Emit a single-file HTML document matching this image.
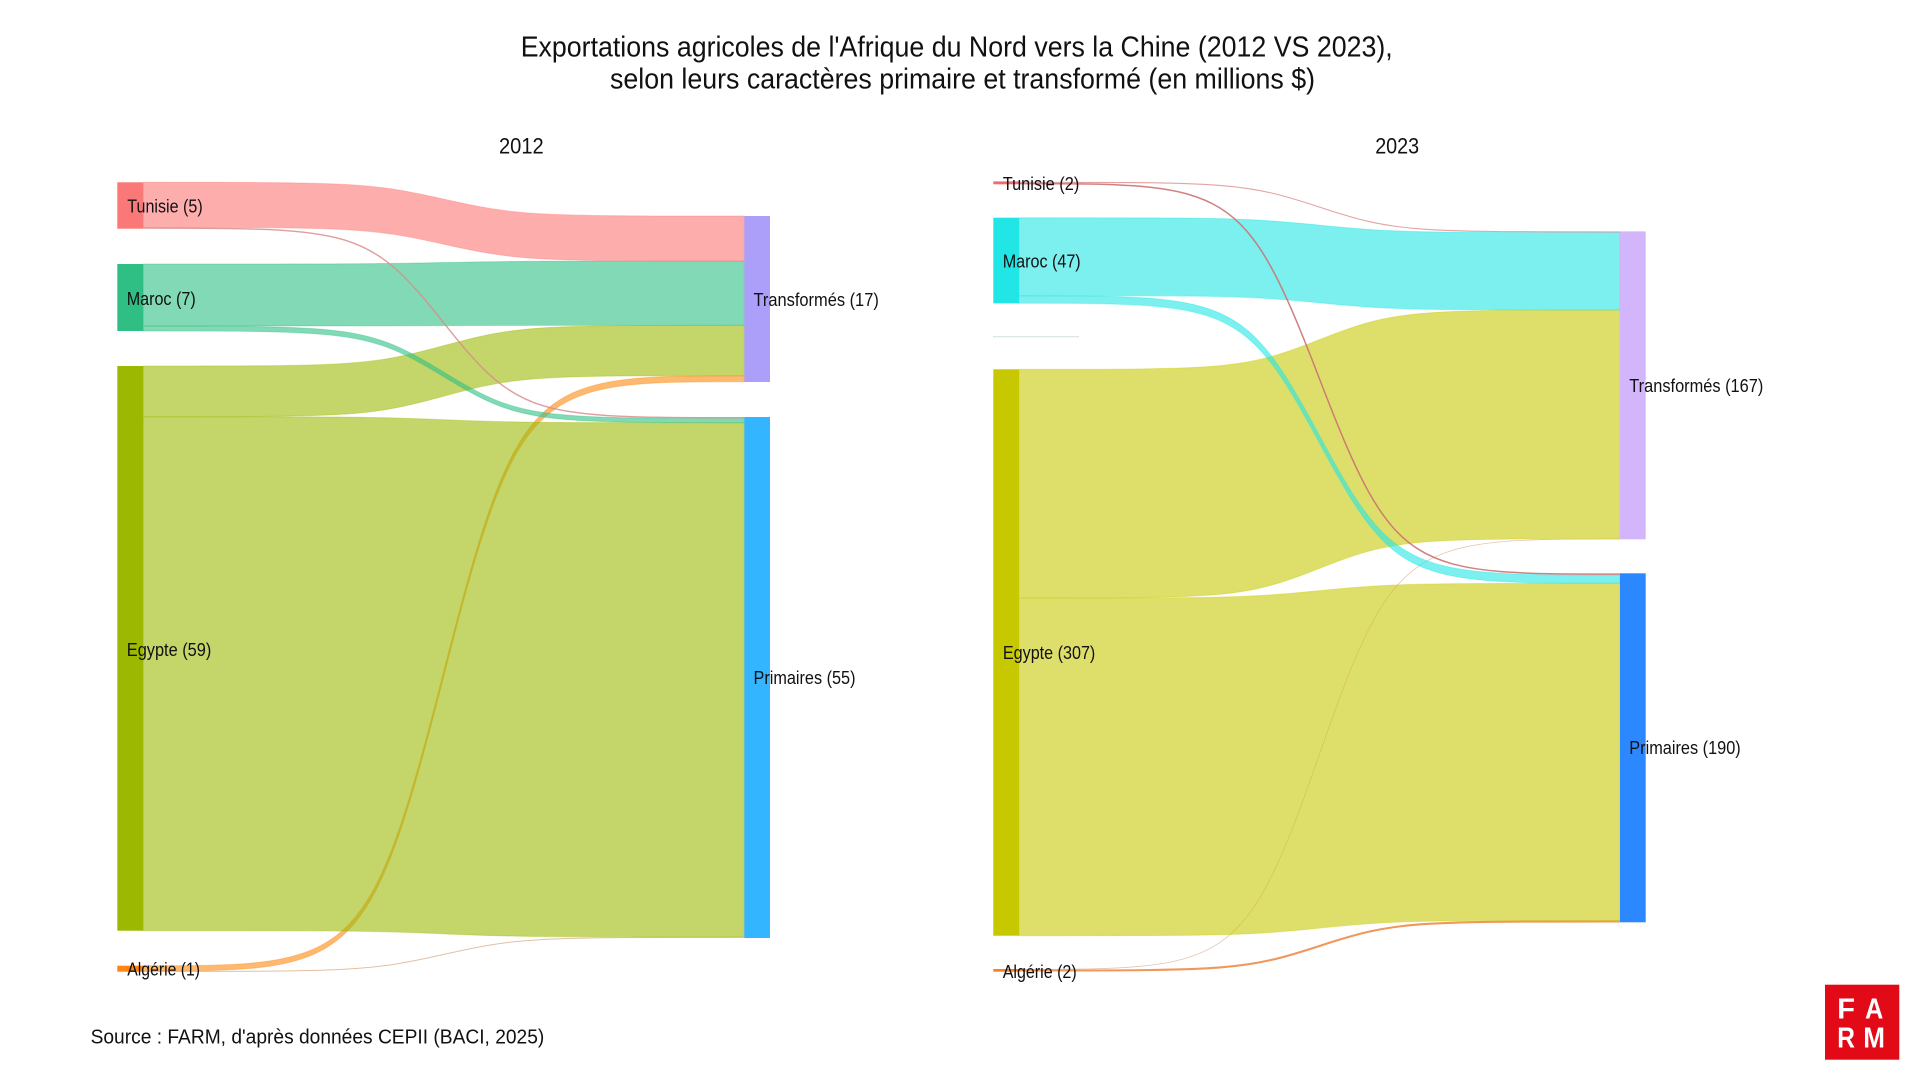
<!DOCTYPE html>
<html>
<head>
<meta charset="utf-8">
<style>
  html, body { margin: 0; padding: 0; background: #ffffff; }
  svg { display: block; }
  text { font-family: "Liberation Sans", Arial, sans-serif; fill: #111; }
</style>
</head>
<body>
<svg width="1920" height="1080" viewBox="0 0 1920 1080" xmlns="http://www.w3.org/2000/svg">
  <rect x="0" y="0" width="1920" height="1080" fill="#ffffff"/>

  <!-- Title -->
  <text x="520.7" y="56.5" font-size="29" textLength="872" lengthAdjust="spacingAndGlyphs">Exportations agricoles de l'Afrique du Nord vers la Chine (2012 VS 2023),</text>
  <text x="610" y="88.3" font-size="29" textLength="705" lengthAdjust="spacingAndGlyphs">selon leurs caractères primaire et transformé (en millions $)</text>

  <!-- Year labels -->
  <text x="499" y="153.3" font-size="22" textLength="44.7" lengthAdjust="spacingAndGlyphs">2012</text>
  <text x="1375.2" y="153.3" font-size="22" textLength="44" lengthAdjust="spacingAndGlyphs">2023</text>

  <!-- ===================== 2012 ===================== -->
  <!-- Algérie links first (underneath) -->
  <path d="M143.3,971.4 C353.65,971.4 368.7,971.4 443.8,954.4 C518.9,937.4 533.95,937.4 744.3,937.4" fill="none" stroke="#E3C0A2" stroke-width="1"/>
  <g stroke-width="1" stroke-opacity="0.35">
    <!-- Algérie -> Transformés -->
    <path d="M143.3,965.7 C353.65,965.7 368.7,965.7 443.8,670.7 C518.9,375.7 533.95,375.7 744.3,375.7 L744.3,381.7 C533.95,381.7 518.9,381.7 443.8,676.35 C368.7,971 353.65,971 143.3,971 Z" fill="#FB8A10" fill-opacity="0.6" stroke="#FB8A10"/>
    <!-- Egypte -> Transformés -->
    <path d="M143.3,366 C353.65,366 368.7,366 443.8,345.65 C518.9,325.3 533.95,325.3 744.3,325.3 L744.3,375.7 C533.95,375.7 518.9,375.7 443.8,396.2 C368.7,416.7 353.65,416.7 143.3,416.7 Z" fill="#9DB907" fill-opacity="0.6" stroke="#9DB907"/>
    <!-- Egypte -> Primaires -->
    <path d="M143.3,416.7 C353.65,416.7 368.7,416.7 443.8,419.7 C518.9,422.7 533.95,422.7 744.3,422.7 L744.3,937 C533.95,937 518.9,937 443.8,933.85 C368.7,930.7 353.65,930.7 143.3,930.7 Z" fill="#9DB907" fill-opacity="0.6" stroke="#9DB907"/>
    <!-- Maroc -> Transformés -->
    <path d="M143.3,264 C353.65,264 368.7,264 443.8,262.5 C518.9,261 533.95,261 744.3,261 L744.3,325.3 C533.95,325.3 518.9,325.3 443.8,325.65 C368.7,326 353.65,326 143.3,326 Z" fill="#2FBF84" fill-opacity="0.6" stroke="#2FBF84"/>
    <!-- Maroc -> Primaires -->
    <path d="M143.3,326 C353.65,326 368.7,326 443.8,372.15 C518.9,418.3 533.95,418.3 744.3,418.3 L744.3,422.7 C533.95,422.7 518.9,422.7 443.8,376.85 C368.7,331 353.65,331 143.3,331 Z" fill="#2FBF84" fill-opacity="0.6" stroke="#2FBF84"/>
    <!-- Tunisie -> Transformés -->
    <path d="M143.3,182.3 C353.65,182.3 368.7,182.3 443.8,199.15 C518.9,216 533.95,216 744.3,216 L744.3,261 C533.95,261 518.9,261 443.8,244.25 C368.7,227.5 353.65,227.5 143.3,227.5 Z" fill="#FD7676" fill-opacity="0.6" stroke="#FD7676"/>
  </g>
  <!-- Tunisie -> Primaires thin -->
  <path d="M143.3,228.1 C353.65,228.1 368.7,228.1 443.8,322.9 C518.9,417.7 533.95,417.7 744.3,417.7" fill="none" stroke="#D98C8C" stroke-width="1.4" stroke-opacity="0.85"/>

  <!-- Nodes 2012 -->
  <rect x="117.3" y="182.3" width="26" height="46.4" fill="#FA7878"/>
  <rect x="117.3" y="264" width="26" height="67" fill="#2FBF84"/>
  <rect x="117.3" y="366" width="26" height="564.7" fill="#9DB800"/>
  <rect x="117.3" y="965.7" width="26" height="6" fill="#FF8412"/>
  <rect x="744.3" y="216" width="25.7" height="166" fill="#AB9FF9"/>
  <rect x="744.3" y="417" width="25.7" height="521" fill="#33B5FF"/>

  <!-- Labels 2012 -->
  <text x="127.3" y="212.7" font-size="18" textLength="75.4" lengthAdjust="spacingAndGlyphs">Tunisie (5)</text>
  <text x="126.7" y="305" font-size="18" textLength="69" lengthAdjust="spacingAndGlyphs">Maroc (7)</text>
  <text x="126.8" y="656" font-size="18" textLength="84.5" lengthAdjust="spacingAndGlyphs">Egypte (59)</text>
  <text x="127.3" y="975.5" font-size="18" textLength="72.7" lengthAdjust="spacingAndGlyphs">Algérie (1)</text>
  <text x="753.5" y="306" font-size="18" textLength="125.3" lengthAdjust="spacingAndGlyphs">Transformés (17)</text>
  <text x="753.5" y="684" font-size="18" textLength="102" lengthAdjust="spacingAndGlyphs">Primaires (55)</text>

  <!-- ===================== 2023 ===================== -->
  <line x1="993" y1="336.7" x2="1079" y2="336.7" stroke="#DCE6E6" stroke-width="1.3"/>
  <!-- Algérie links first -->
  <path d="M1019,969.3 C1229.35,969.3 1244.4,969.3 1319.5,754.15 C1394.6,539 1409.65,539 1620,539" fill="none" stroke="#E8C4AE" stroke-width="0.8"/>
  <path d="M1019,970.5 C1229.35,970.5 1244.4,970.5 1319.5,945.95 C1394.6,921.4 1409.65,921.4 1620,921.4" fill="none" stroke="#F0975A" stroke-width="2.1"/>
  <g stroke-width="1" stroke-opacity="0.35">
    <!-- Egypte -> Transformés -->
    <path d="M1019,369.3 C1229.35,369.3 1244.4,369.3 1319.5,339.65 C1394.6,310 1409.65,310 1620,310 L1620,538.8 C1409.65,538.8 1394.6,538.8 1319.5,568.4 C1244.4,598 1229.35,598 1019,598 Z" fill="#C8C907" fill-opacity="0.6" stroke="#C8C907"/>
    <!-- Egypte -> Primaires -->
    <path d="M1019,598 C1229.35,598 1244.4,598 1319.5,590.65 C1394.6,583.3 1409.65,583.3 1620,583.3 L1620,920.5 C1409.65,920.5 1394.6,920.5 1319.5,928.1 C1244.4,935.7 1229.35,935.7 1019,935.7 Z" fill="#C8C907" fill-opacity="0.6" stroke="#C8C907"/>
    <!-- Maroc -> Transformés -->
    <path d="M1019,217.7 C1229.35,217.7 1244.4,217.7 1319.5,225.1 C1394.6,232.5 1409.65,232.5 1620,232.5 L1620,310 C1409.65,310 1394.6,310 1319.5,302.85 C1244.4,295.7 1229.35,295.7 1019,295.7 Z" fill="#25E4E4" fill-opacity="0.6" stroke="#25E4E4"/>
    <!-- Maroc -> Primaires -->
    <path d="M1019,295.7 C1229.35,295.7 1244.4,295.7 1319.5,435.35 C1394.6,575 1409.65,575 1620,575 L1620,583.3 C1409.65,583.3 1394.6,583.3 1319.5,443.3 C1244.4,303.3 1229.35,303.3 1019,303.3 Z" fill="#25E4E4" fill-opacity="0.6" stroke="#25E4E4"/>
  </g>
  <!-- Tunisie thin links 2023 -->
  <path d="M1019,182.3 C1229.35,182.3 1244.4,182.3 1319.5,207.1 C1394.6,231.9 1409.65,231.9 1620,231.9" fill="none" stroke="#E4A2A2" stroke-width="1.1"/>
  <path d="M1019,183.6 C1229.35,183.6 1244.4,183.6 1319.5,378.85 C1394.6,574.1 1409.65,574.1 1620,574.1" fill="none" stroke="#CC7272" stroke-width="1.5" stroke-opacity="0.9"/>

  <!-- Nodes 2023 -->
  <rect x="993.3" y="181.4" width="25.7" height="2.9" fill="#F26A6A"/>
  <rect x="993.3" y="217.7" width="25.7" height="85.6" fill="#22E5E5"/>
  <rect x="993.3" y="369.3" width="25.7" height="566.4" fill="#C8C800"/>
  <rect x="993.3" y="969" width="25.7" height="2.7" fill="#FF7F1A"/>
  <rect x="1620" y="231.4" width="25.7" height="307.9" fill="#D3B5FB"/>
  <rect x="1620" y="573.3" width="25.7" height="349" fill="#2B88FF"/>

  <!-- Labels 2023 -->
  <text x="1002.7" y="190" font-size="18" textLength="76.6" lengthAdjust="spacingAndGlyphs">Tunisie (2)</text>
  <text x="1002.7" y="267.3" font-size="18" textLength="78" lengthAdjust="spacingAndGlyphs">Maroc (47)</text>
  <text x="1002.9" y="659" font-size="18" textLength="92.4" lengthAdjust="spacingAndGlyphs">Egypte (307)</text>
  <text x="1002.7" y="978" font-size="18" textLength="74" lengthAdjust="spacingAndGlyphs">Algérie (2)</text>
  <text x="1629.3" y="392" font-size="18" textLength="134" lengthAdjust="spacingAndGlyphs">Transformés (167)</text>
  <text x="1629.3" y="754" font-size="18" textLength="111.4" lengthAdjust="spacingAndGlyphs">Primaires (190)</text>

  <!-- Source -->
  <text x="90.6" y="1043.3" font-size="20.5" textLength="453.7" lengthAdjust="spacingAndGlyphs">Source : FARM, d'après données CEPII (BACI, 2025)</text>

  <!-- FARM logo -->
  <rect x="1825" y="984.7" width="74.3" height="75" fill="#E30A17"/>
  <g font-size="29" font-weight="bold">
    <text x="1837.3" y="1018.3" style="fill:#fff" textLength="17.7" lengthAdjust="spacingAndGlyphs">F</text>
    <text x="1865" y="1018.3" style="fill:#fff" textLength="18.3" lengthAdjust="spacingAndGlyphs">A</text>
    <text x="1837.3" y="1047.3" style="fill:#fff" textLength="17.7" lengthAdjust="spacingAndGlyphs">R</text>
    <text x="1863.3" y="1047.3" style="fill:#fff" textLength="21.7" lengthAdjust="spacingAndGlyphs">M</text>
  </g>
</svg>
</body>
</html>
